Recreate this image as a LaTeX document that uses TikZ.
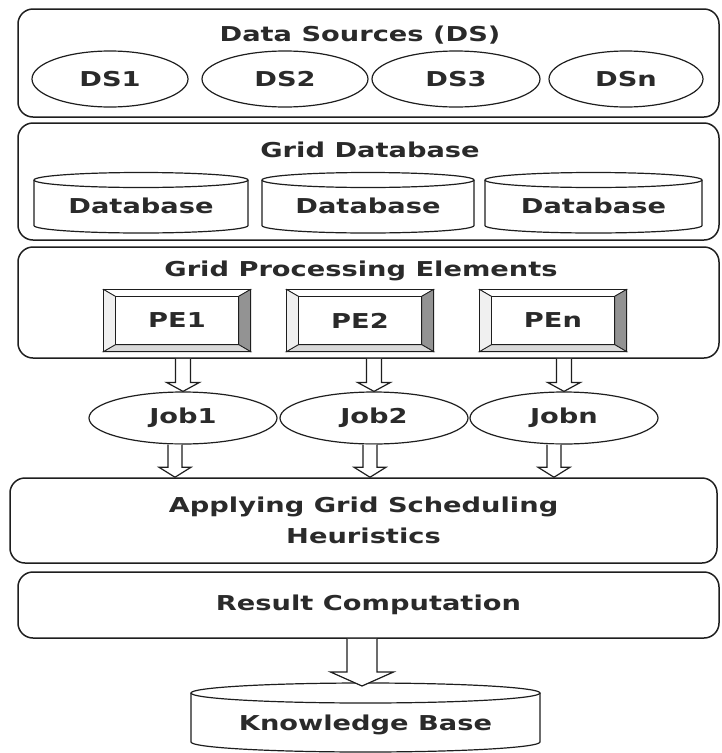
\documentclass[tikz,border=0pt]{standalone}
\usepackage{fontspec}
\setmainfont{DejaVu Sans}[FakeStretch=1.33]
\usetikzlibrary{calc,shapes.geometric}
\definecolor{ink}{HTML}{1E1E1E}
\definecolor{txt}{HTML}{2A2A2A}
\tikzset{
  every node/.style={font=\fontsize{20.5}{31}\selectfont\bfseries, text=txt},
  panel/.style={draw=ink, line width=1.5pt, rounded corners=15pt, inner sep=0pt, align=center},
  dsell/.style={draw=ink, ellipse, line width=1.2pt, inner sep=0pt, minimum height=56pt},
  jobell/.style={draw=ink, ellipse, line width=1.2pt, inner sep=0pt, minimum height=52pt, minimum width=188pt},
  cyl/.style={draw=ink, line width=1.2pt},
  pebox/.style={draw=ink, line width=1.2pt, inner sep=0pt, minimum width=146pt, minimum height=61pt},
  bev/.style={draw=ink, line width=0.8pt, line join=miter},
  harrow/.style={draw=ink, line width=1.2pt, fill=white, line join=miter}
}
\newcommand\dbcyl[8]{%
  \draw[cyl] (#2,#4) -- (#2,#5-#6) arc[start angle=180,end angle=0,x radius={(#3-#2)/2},y radius=#6] -- (#3,#4);
  \draw[cyl] ({(#2+#3)/2},#4) ellipse[x radius={(#3-#2)/2},y radius=#6];
  \node (#1) at ({(#2+#3)/2},#7) {#8};
}
\newcommand\pebx[4]{%
  \node[pebox] (#1) at (#2,#3) {#4};
  \coordinate (#1-a) at ($(#1.north west)+(12pt,-7pt)$);
  \coordinate (#1-b) at ($(#1.north east)+(-12pt,-7pt)$);
  \coordinate (#1-c) at ($(#1.south east)+(-12pt,7pt)$);
  \coordinate (#1-d) at ($(#1.south west)+(12pt,7pt)$);
  \filldraw[bev, fill=white] (#1.north west) -- (#1.north east) -- (#1-b) -- (#1-a) -- cycle;
  \filldraw[bev, fill=gray!85] (#1.north east) -- (#1.south east) -- (#1-c) -- (#1-b) -- cycle;
  \filldraw[bev, fill=gray!30] (#1.south east) -- (#1.south west) -- (#1-d) -- (#1-c) -- cycle;
  \filldraw[bev, fill=gray!12] (#1.south west) -- (#1.north west) -- (#1-a) -- (#1-d) -- cycle;
  \draw[line width=1.2pt, draw=ink] (#1.north west) rectangle (#1.south east);
}
\newcommand\hollowarrow[5]{%
  \draw[harrow] let \p1=(#1), \p2=(#2) in
    (\x1-#3pt,\y1) -- (\x1-#3pt,\y2+#5pt) -- (\x1-#4pt,\y2+#5pt) -- (\x1,\y2)
    -- (\x1+#4pt,\y2+#5pt) -- (\x1+#3pt,\y2+#5pt) -- (\x1+#3pt,\y1);
}
\begin{document}
\begin{tikzpicture}[x=1pt,y=-1pt]
\useasboundingbox[fill=white] (0,0) rectangle (721,753);
% panels
\node[panel, minimum width=701pt, minimum height=108pt] (p1) at (368.5,63) {};
\node[panel, minimum width=701pt, minimum height=117pt] (p2) at (368.5,181.5) {};
\node[panel, minimum width=701pt, minimum height=111pt] (p3) at (368.5,302.5) {};
\node[panel, minimum width=707pt, minimum height=85pt] (p4) at (363.5,520.5) {Applying Grid Scheduling\\Heuristics};
\node[panel, minimum width=701pt, minimum height=66pt] (p5) at (368.5,605) {Result Computation};
% titles
\node (t1) at (360,35) {Data Sources (DS)};
\node (t2) at (370,150) {Grid Database};
\node (t3) at (361,271) {Grid Processing Elements};
% data sources
\node[dsell, minimum width=156pt] (ds1) at (110,79) {DS1};
\node[dsell, minimum width=166pt] (ds2) at (285,79) {DS2};
\node[dsell, minimum width=168pt] (ds3) at (456,79) {DS3};
\node[dsell, minimum width=154pt] (dsn) at (626,79) {DSn};
% databases
\dbcyl{db1}{34}{248}{180}{233}{7.5}{206}{Database}
\dbcyl{db2}{262}{474}{180}{233}{7.5}{206}{Database}
\dbcyl{db3}{485}{702}{180}{233}{7.5}{206}{Database}
% processing elements
\pebx{pe1}{177}{320.5}{PE1}
\pebx{pe2}{360}{320.5}{PE2}
\pebx{pen}{553}{320.5}{PEn}
% jobs
\node[jobell] (job1) at (183,418) {Job1};
\node[jobell] (job2) at (374,418) {Job2};
\node[jobell] (jobn) at (564,418) {Jobn};
% arrows PE -> Job
\hollowarrow{job1.north |- p3.south}{job1.north}{7.5}{16.5}{9}
\hollowarrow{job2.north |- p3.south}{job2.north}{7.5}{16.5}{9}
\hollowarrow{jobn.north |- p3.south}{jobn.north}{7.5}{16.5}{9}
% arrows Job -> scheduling
\coordinate (l1) at ($(job1.south)+(-8pt,0pt)$);
\coordinate (l2) at ($(job2.south)+(-4pt,0pt)$);
\coordinate (ln) at ($(jobn.south)+(-10pt,0pt)$);
\hollowarrow{l1}{l1 |- p4.north}{7}{16}{10}
\hollowarrow{l2}{l2 |- p4.north}{7}{16}{10}
\hollowarrow{ln}{ln |- p4.north}{7}{16}{10}
% knowledge base
\dbcyl{kb}{191}{540}{693}{752}{10}{725}{Knowledge Base}
\coordinate (kbtop) at (362,686);
\hollowarrow{kbtop |- p5.south}{kbtop}{15}{31.5}{14}
\end{tikzpicture}
\end{document}
